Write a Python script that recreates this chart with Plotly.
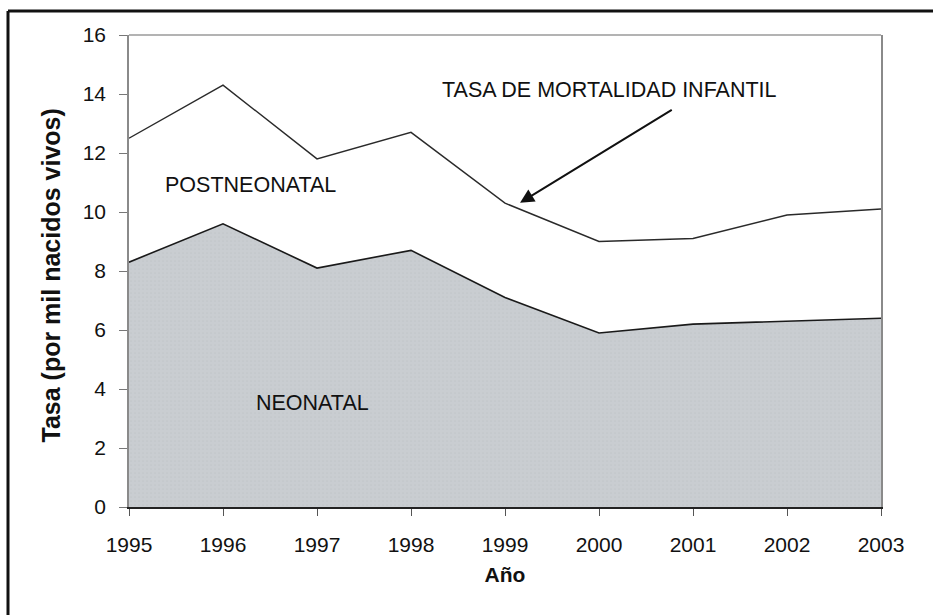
import plotly.graph_objects as go

# Infant mortality rates per 1,000 live births
years = [1995, 1996, 1997, 1998, 1999, 2000, 2001, 2002, 2003]
total_rate = [12.5, 14.3, 11.8, 12.7, 10.3, 9.0, 9.1, 9.9, 10.1]
neonatal_rate = [8.3, 9.6, 8.1, 8.7, 7.1, 5.9, 6.2, 6.3, 6.4]

y_ticks = [0, 2, 4, 6, 8, 10, 12, 14, 16]

FONT = "Liberation Sans, Arial, sans-serif"

fig = go.Figure()

# Neonatal component as a filled grey area
fig.add_trace(go.Scatter(
    x=years, y=neonatal_rate, mode="lines", fill="tozeroy",
    fillcolor="#c7cbcf",
    fillpattern=dict(shape=".", fgcolor="#b9bdc1", bgcolor="#c9cdd1",
                     size=4, solidity=0.15),
    line=dict(color="#1a1a1a", width=1.6),
    hoverinfo="x+y", showlegend=False,
))

# Total infant mortality line (neonatal + postneonatal)
fig.add_trace(go.Scatter(
    x=years, y=total_rate, mode="lines",
    line=dict(color="#2a2a2a", width=1.4),
    hoverinfo="x+y", showlegend=False,
))

fig.update_layout(
    width=933, height=615,
    margin=dict(l=129, r=52, t=35, b=108),
    paper_bgcolor="white", plot_bgcolor="white",
    font=dict(family=FONT, color="#111111", size=20),
    xaxis=dict(
        range=[years[0], years[-1]], tickmode="array", tickvals=years,
        ticktext=[str(y) for y in years],
        showgrid=False, zeroline=False, showline=True,
        linecolor="#222222", linewidth=1.5,
        ticks="outside", ticklen=7, tickcolor="#555555",
        tickfont=dict(size=21), ticklabelstandoff=11,
        title=dict(text="<b>Año</b>", font=dict(size=21), standoff=12),
    ),
    yaxis=dict(
        range=[0, 16], tickmode="array", tickvals=y_ticks,
        showgrid=False, zeroline=False, showline=True, mirror=True,
        linecolor="#8a8a8a", linewidth=1.5,
        ticks="outside", ticklen=8, tickcolor="#777777",
        tickfont=dict(size=21), ticklabelstandoff=9,
    ),
    shapes=[
        # light top edge of the plot area
        dict(type="line", xref="paper", yref="paper", x0=0, x1=1, y0=1, y1=1,
             line=dict(color="#9a9a9a", width=1.5)),
        # outer frame: left and top edges
        dict(type="line", xref="paper", yref="paper",
             x0=-0.1609, x1=-0.1609, y0=-0.3, y1=1.0508,
             line=dict(color="#111111", width=3)),
        dict(type="line", xref="paper", yref="paper",
             x0=-0.1609, x1=1.075, y0=1.0508, y1=1.0508,
             line=dict(color="#111111", width=3)),
    ],
    annotations=[
        # y-axis title
        dict(text="<b>Tasa (por mil nacidos vivos)</b>", textangle=-90,
             x=-0.104, y=0.49, xref="paper", yref="paper",
             xanchor="center", yanchor="middle", showarrow=False,
             font=dict(size=25)),
        dict(text="POSTNEONATAL", x=1996.29, y=10.92, xref="x", yref="y",
             showarrow=False, font=dict(size=21.5)),
        dict(text="NEONATAL", x=1996.95, y=3.53, xref="x", yref="y",
             showarrow=False, font=dict(size=21.5)),
        dict(text="TASA DE MORTALIDAD INFANTIL", x=2000.11, y=14.14,
             xref="x", yref="y", showarrow=False, font=dict(size=21.5)),
        # arrow pointing at the total rate line
        dict(text="", x=1999.16, y=10.31, xref="x", yref="y",
             ax=2000.79, ay=13.49, axref="x", ayref="y",
             showarrow=True, arrowhead=2, arrowsize=1.4, arrowwidth=2,
             arrowcolor="#111111"),
    ],
)

# keep the page flush with the window so no scrollbar appears
fig.write_html(
    "out.html",
    post_script="document.body.style.margin='0';"
                "document.documentElement.style.overflow='hidden';"
                "document.body.style.overflow='hidden';",
)
